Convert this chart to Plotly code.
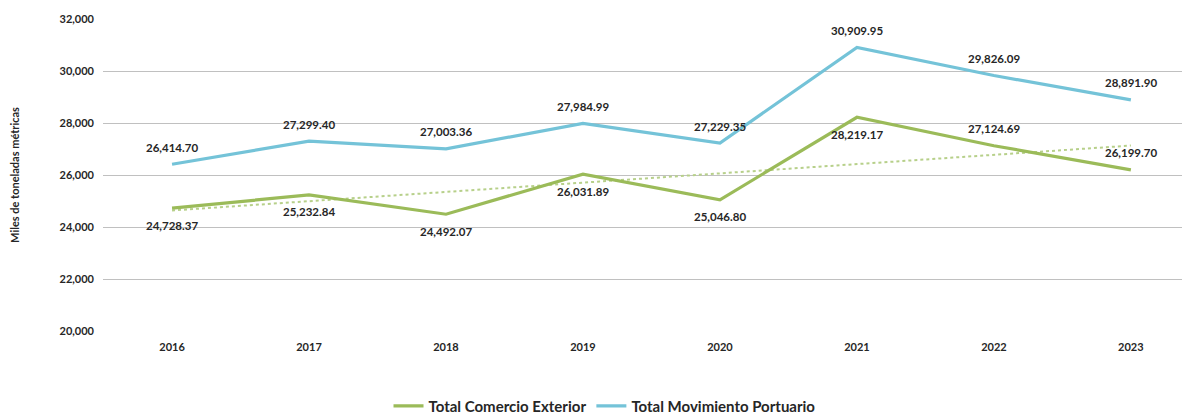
import numpy as np
import plotly.graph_objects as go

years = ["2016", "2017", "2018", "2019", "2020", "2021", "2022", "2023"]
comercio = [24728.37, 25232.84, 24492.07, 26031.89, 25046.80, 28219.17, 27124.69, 26199.70]
portuario = [26414.70, 27299.40, 27003.36, 27984.99, 27229.35, 30909.95, 29826.09, 28891.90]
# label side: -1 below the point, +1 above the point
comercio_side = [-1, -1, -1, -1, -1, -1, 1, 1]
portuario_side = [1, 1, 1, 1, 1, 1, 1, 1]

xi = np.arange(len(years))
coef = np.polyfit(xi, comercio, 1)
trend = np.polyval(coef, xi)

fmt = lambda v: f"{v:,.2f}"
lab_font = dict(family="Lato, Open Sans, sans-serif", size=11.5, color="#262626", weight="bold")

fig = go.Figure()
fig.add_trace(go.Scatter(x=xi, y=trend, mode="lines", showlegend=False,
                         line=dict(color="#B7D08A", width=2, dash="dot"), hoverinfo="skip"))
fig.add_trace(go.Scatter(x=xi, y=comercio, mode="lines", name="Total Comercio Exterior",
                         line=dict(color="#9BBB59", width=3.2)))
fig.add_trace(go.Scatter(x=xi, y=portuario, mode="lines", name="Total Movimiento Portuario",
                         line=dict(color="#74C3D8", width=3.2)))

for vals, sides in ((comercio, comercio_side), (portuario, portuario_side)):
    for x, v, s in zip(xi, vals, sides):
        fig.add_annotation(x=x, y=v, text=fmt(v), showarrow=False, font=lab_font,
                           yshift=17 * s, xanchor="center", yanchor="middle")

fig.update_layout(
    width=1190, height=413,
    margin=dict(l=95, r=0, t=11, b=90, autoexpand=False),
    paper_bgcolor="white", plot_bgcolor="white",
    font=dict(family="Lato, Open Sans, sans-serif", color="#262626"),
    legend=dict(orientation="h", x=0.458, xanchor="center", y=-0.241, yanchor="middle",
                font=dict(size=15, color="#262626", weight="bold"), itemwidth=30,
                tracegroupgap=0),
    xaxis=dict(range=[-0.504, 7.49], tickmode="array", tickvals=xi, ticktext=years,
               showgrid=False, zeroline=False, showline=False, automargin=False,
               tickfont=dict(size=11, weight="bold"), ticks="", ticklabelstandoff=8),
    yaxis=dict(range=[20000, 32000], dtick=2000, tickformat=",", automargin=False,
               showgrid=True, gridcolor="#C0C0C0", gridwidth=1, zeroline=False,
               tickfont=dict(size=11, weight="bold"), ticks="", ticklabelstandoff=8,
               title=dict(text="Miles de toneladas métricas", font=dict(size=11, weight="bold"),
                          standoff=38)),
)
fig.write_html("out.html")
